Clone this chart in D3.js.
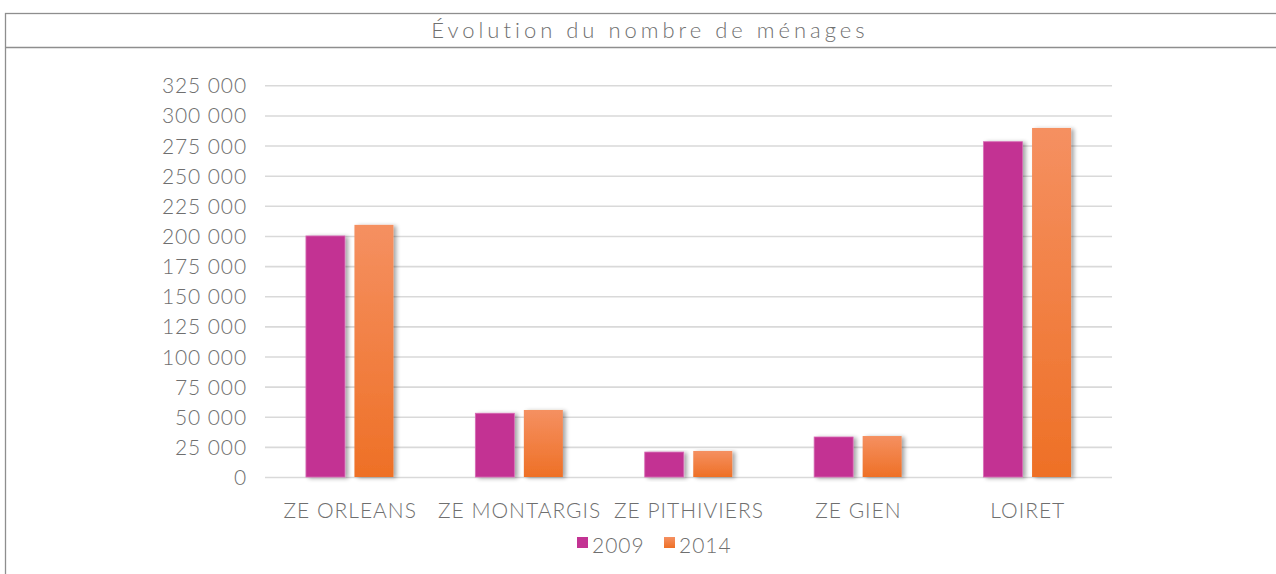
<!DOCTYPE html>
<html><head><meta charset="utf-8">
<script src="https://cdn.jsdelivr.net/npm/d3@7"></script>
<style>
html,body{margin:0;padding:0;background:#fff;}
svg{display:block;}
</style></head>
<body>
<script>
const categories = ["ZE ORLEANS","ZE MONTARGIS","ZE PITHIVIERS","ZE GIEN","LOIRET"];
const seriesNames = ["2009","2014"];
const values2009 = [200000, 52900, 20700, 33200, 278200];
const values2014 = [209200, 55600, 21600, 34000, 289600];
const yTicks = [0,25000,50000,75000,100000,125000,150000,175000,200000,225000,250000,275000,300000,325000];
const titleText = "Évolution du nombre de ménages";

(function(){
const W = 1276, H = 574;
const svg = d3.select("body").append("svg").attr("width", W).attr("height", H);
const defs = svg.append("defs");
const gOr = defs.append("linearGradient").attr("id","gOr").attr("x1",0).attr("y1",0).attr("x2",0).attr("y2",1);
gOr.append("stop").attr("offset","0%").attr("stop-color","#F59061");
gOr.append("stop").attr("offset","100%").attr("stop-color","#EE7026");
const sh = defs.append("filter").attr("id","sh").attr("x","-30%").attr("y","-10%").attr("width","170%").attr("height","130%");
sh.append("feGaussianBlur").attr("in","SourceAlpha").attr("stdDeviation",2.2);
sh.append("feOffset").attr("dx",2.5).attr("dy",1).attr("result","b");
sh.append("feComponentTransfer").append("feFuncA").attr("type","linear").attr("slope",0.35);
const m = sh.append("feMerge"); m.append("feMergeNode"); m.append("feMergeNode").attr("in","SourceGraphic");

const font = "Lato";
// frame
svg.append("rect").attr("x",5.5).attr("y",13.5).attr("width",W+10).attr("height",H+10)
  .attr("fill","none").attr("stroke","#8e8e8e").attr("stroke-width",1.3);
svg.append("line").attr("x1",5).attr("x2",W).attr("y1",47.5).attr("y2",47.5)
  .attr("stroke","#8e8e8e").attr("stroke-width",1.3);
svg.append("text").attr("x",650).attr("y",38).attr("text-anchor","middle")
  .attr("font-family",font).attr("font-weight",300).attr("font-size",22)
  .attr("letter-spacing","4px").attr("fill","#707070").text(titleText);

const pL = 265, pR = 1112, pT = 85.3, pB = 477;
const x0 = d3.scaleBand().domain(categories).range([pL,pR]).padding(0);
const y = d3.scaleLinear().domain([0,325000]).range([pB, pT]);

// gridlines
const yAxis = d3.axisLeft(y).tickValues(yTicks).tickSize(-(pR-pL))
  .tickFormat(d => d3.format(",")(d).replace(/,/g," "));
const ga = svg.append("g").attr("transform",`translate(${pL},0)`).call(yAxis);
ga.select(".domain").remove();
ga.selectAll(".tick line").attr("stroke","#d9d9d9").attr("stroke-width",1.6);
ga.selectAll(".tick text").attr("x",-18).attr("dy","0.36em")
  .attr("font-family",font).attr("font-weight",300).attr("font-size",21)
  .attr("fill","#6f6f6f").attr("letter-spacing","0.9px");

// bars
const step = x0.step();
const bw = 39, gap = 9.5;
const data = categories.map((c,i)=>({c, v:[values2009[i], values2014[i]]}));
const colors = ["#C33393","url(#gOr)"];
const bars = svg.append("g");
data.forEach(d=>{
  const cx = x0(d.c) + step/2;
  d.v.forEach((v,j)=>{
    const xx = j===0 ? cx - gap/2 - bw : cx + gap/2;
    bars.append("rect").attr("x",xx).attr("y",y(v)).attr("width",bw).attr("height",y(0)-y(v))
      .attr("fill",colors[j]).attr("filter","url(#sh)")
      .attr("stroke", j===0 ? "#D86AB5" : "none").attr("stroke-width",0.8);
  });
});

// x axis labels
const xAxis = d3.axisBottom(x0).tickSize(0);
const gx = svg.append("g").attr("transform",`translate(0,${pB})`).call(xAxis);
gx.select(".domain").remove();
gx.selectAll(".tick text").attr("y",41).attr("dy",0).attr("x",0.5)
  .attr("font-family",font).attr("font-weight",300).attr("font-size",21)
  .attr("fill","#6f6f6f").attr("letter-spacing","1px");

// legend
const leg = svg.append("g");
const legX = [577, 664];
seriesNames.forEach((s,i)=>{
  leg.append("rect").attr("x",legX[i]).attr("y",537).attr("width",11).attr("height",11)
    .attr("fill", i===0 ? "#C33393" : "url(#gOr)");
  leg.append("text").attr("x",legX[i]+15).attr("y",553).attr("font-family",font).attr("font-weight",300)
    .attr("font-size",21).attr("fill","#6f6f6f").attr("letter-spacing","1px").text(s);
});
})();
</script>
</body></html>
